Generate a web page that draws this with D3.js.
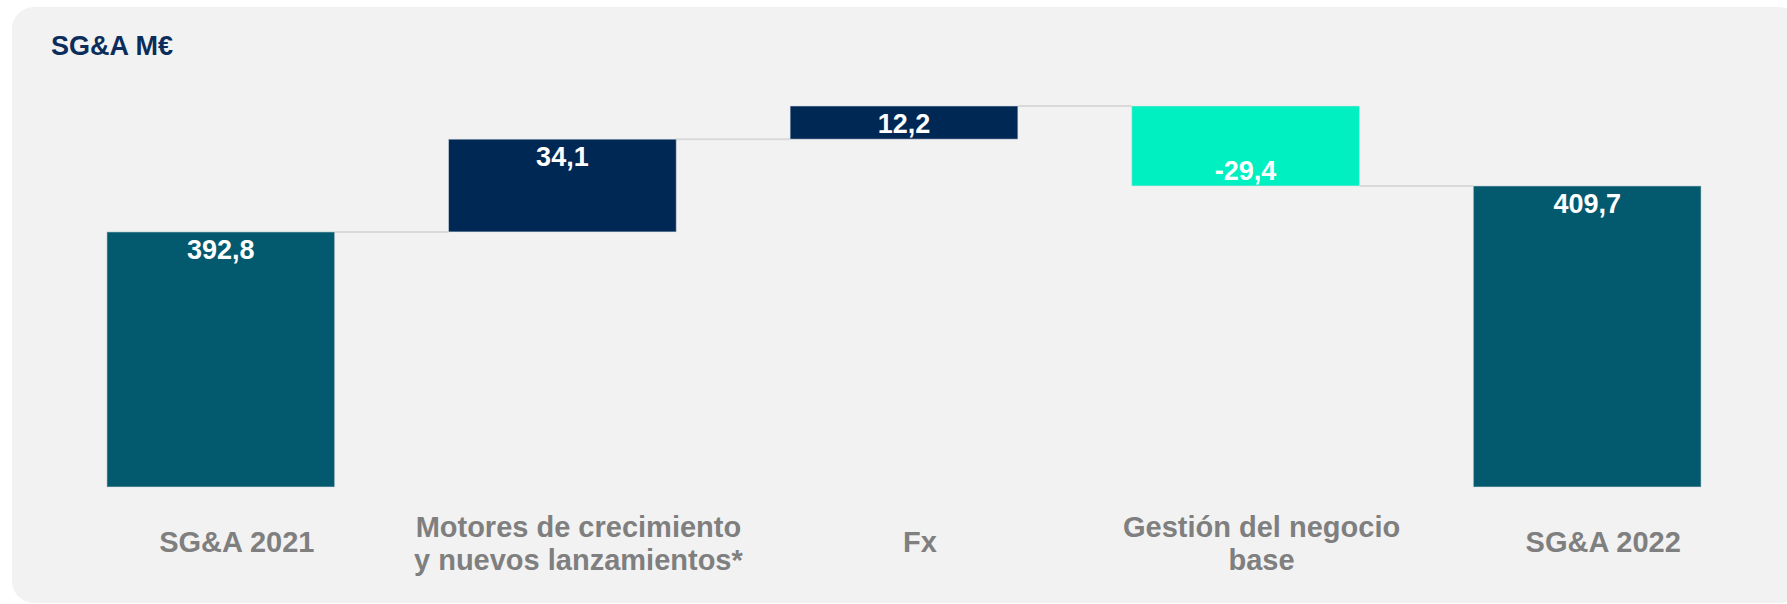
<!DOCTYPE html>
<html>
<head>
<meta charset="utf-8">
<script src="https://cdn.jsdelivr.net/npm/d3@7"></script>
<style>
  html, body { margin: 0; padding: 0; background: #ffffff; }
  svg { display: block; font-family: "Liberation Sans", Arial, sans-serif; }
</style>
</head>
<body>
<svg id="chart" width="1787" height="604"></svg>
<script>
// categories (lines of each axis label)
var CATEGORIES = ['SG&A 2021', 'Motores', 'Fx', 'Gestion', 'SG&A 2022'];
var LABEL_LINES = [
  ['SG&A 2021'],
  ['Motores de crecimiento', 'y nuevos lanzamientos*'],
  ['Fx'],
  ['Gestión del negocio', 'base'],
  ['SG&A 2022']
];
// values: totals are absolute, steps are deltas
var VALUES = [392.8, 34.1, 12.2, -29.4, 409.7];
var KINDS = ['total', 'up', 'up', 'down', 'total'];
var VALUE_LABELS = ['392,8', '34,1', '12,2', '-29,4', '409,7'];
var AXIS_MIN = 299;

var COLORS = { total: '#03596e', up: '#002855', down: '#00f0c2' };

var W = 1787, H = 604;
var svg = d3.select('#chart');

// panel
svg.append('rect')
  .attr('x', 12).attr('y', 7)
  .attr('width', W - 12 + 14).attr('height', H - 7 - 1)
  .attr('rx', 22).attr('ry', 22)
  .attr('fill', '#f2f2f2');

svg.append('text')
  .attr('x', 51).attr('y', 55)
  .attr('fill', '#0b2d5b')
  .attr('font-size', 27)
  .attr('font-weight', 'bold')
  .text('SG&A M€');

// build waterfall rows
var running = 0;
var rows = VALUES.map(function(v, i) {
  var r;
  if (KINDS[i] == 'total') {
    r = { lo: AXIS_MIN, hi: v, end: v };
    running = v;
  } else {
    var start = running;
    running = start + v;
    r = { lo: Math.min(start, running), hi: Math.max(start, running), end: running };
  }
  r.cat = CATEGORIES[i];
  r.kind = KINDS[i];
  r.label = VALUE_LABELS[i];
  r.lines = LABEL_LINES[i];
  r.value = v;
  return r;
});

var x = d3.scaleBand()
  .domain(CATEGORIES)
  .range([50, 1758])
  .paddingInner(1 / 3)
  .paddingOuter(1 / 6);

var y = d3.scaleLinear()
  .domain([AXIS_MIN, d3.max(rows, function(d) { return d.hi; })])
  .range([487, 106]);

// connectors
var conn = rows.slice(0, -1);
svg.append('g').selectAll('line').data(conn)
  .enter().append('line')
  .attr('x1', function(d) { return x(d.cat) + x.bandwidth(); })
  .attr('x2', function(d, i) { return x(rows[i + 1].cat); })
  .attr('y1', function(d) { return y(d.end); })
  .attr('y2', function(d) { return y(d.end); })
  .attr('stroke', '#d9d9d9')
  .attr('stroke-width', 2);

// bars
svg.append('g').selectAll('rect').data(rows)
  .enter().append('rect')
  .attr('x', function(d) { return x(d.cat); })
  .attr('width', x.bandwidth())
  .attr('y', function(d) { return y(d.hi); })
  .attr('height', function(d) { return y(d.lo) - y(d.hi); })
  .attr('fill', function(d) { return COLORS[d.kind]; })
  .attr('stroke', 'rgba(220,225,230,0.55)')
  .attr('stroke-width', 1);

// value labels
svg.append('g').selectAll('text').data(rows)
  .enter().append('text')
  .attr('x', function(d) { return x(d.cat) + x.bandwidth() / 2; })
  .attr('y', function(d) {
    return d.value < 0 ? y(d.lo) - 6 : y(d.hi) + 27;
  })
  .attr('text-anchor', 'middle')
  .attr('fill', '#ffffff')
  .attr('font-size', 27)
  .attr('font-weight', 'bold')
  .text(function(d) { return d.label; });

// category labels
var cats = svg.append('g').selectAll('text').data(rows)
  .enter().append('text')
  .attr('text-anchor', 'middle')
  .attr('fill', '#7f7f7f')
  .attr('font-size', 29)
  .attr('font-weight', 'bold');

cats.selectAll('tspan')
  .data(function(d) {
    return d.lines.map(function(l, j) {
      return { text: l, j: j, n: d.lines.length, cx: x(d.cat) + x.bandwidth() / 2 + 16 };
    });
  })
  .enter().append('tspan')
  .attr('x', function(t) { return t.cx; })
  .attr('y', function(t) { return 552 - (t.n - 1) * 15 + t.j * 33; })
  .text(function(t) { return t.text; });
</script>
</body>
</html>
